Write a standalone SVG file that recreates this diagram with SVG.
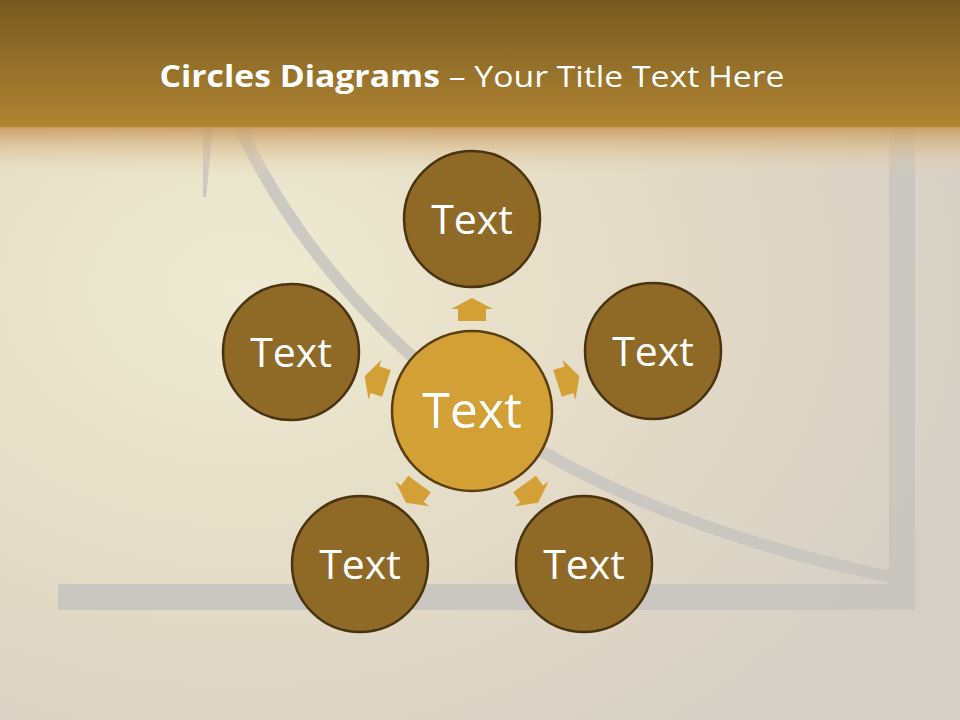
<svg xmlns="http://www.w3.org/2000/svg" width="960" height="720" viewBox="0 0 960 720">
<defs>
  <linearGradient id="hdr" x1="0" y1="0" x2="0" y2="1">
    <stop offset="0" stop-color="#775A1F"/>
    <stop offset="1" stop-color="#B18533"/>
  </linearGradient>
  <linearGradient id="fade" x1="0" y1="0" x2="0" y2="1">
    <stop offset="0" stop-color="#C99E62" stop-opacity="0.95"/>
    <stop offset="0.5" stop-color="#DCBF90" stop-opacity="0.5"/>
    <stop offset="1" stop-color="#E8DCBC" stop-opacity="0"/>
  </linearGradient>
  <radialGradient id="bg" cx="0.25" cy="0.4" r="0.8">
    <stop offset="0" stop-color="#EFEBD2"/>
    <stop offset="0.5" stop-color="#E4DCC6"/>
    <stop offset="1" stop-color="#D6CFC6"/>
  </radialGradient>
  <style>
    .outer { fill: #8F6A26; stroke: #4A3410; stroke-width: 2.5; }
    .center { fill: #D3A036; stroke: #5A3E10; stroke-width: 2.5; }
    .lbl { font-family: "Open Sans", "Liberation Sans", sans-serif; fill: #FFFFFF; text-anchor: middle; }
    .arrow { fill: #D3A036; }
    .chart { fill: none; stroke: #C8C6C0; }
  </style>
  <path id="arr" d="M0,-12 L21,-1 L14,-1 L14,11 L-14,11 L-14,-1 L-21,-1 Z"/>
</defs>

<rect x="0" y="0" width="960" height="720" fill="url(#bg)"/>

<g id="chart-lines" opacity="0.9">
  <path class="chart" d="M240 128 C285 225, 360 320, 470 405 C600 500, 760 550, 895 578" stroke-width="12"/>
  <path d="M203 128 L213 128 L206 197 L203 197 Z" fill="#C8C6C0"/>
  <rect x="889" y="128" width="26" height="482" fill="#C8C6C0"/>
  <rect x="58" y="584" width="857" height="26" fill="#C8C6C0"/>
</g>

<rect x="0" y="0" width="960" height="128" fill="url(#hdr)"/>
<rect x="0" y="127" width="960" height="50" fill="url(#fade)"/>

<text x="472" y="87" font-family="Open Sans, Liberation Sans, sans-serif" font-size="30" fill="#FFFFFF" text-anchor="middle" textLength="625" lengthAdjust="spacingAndGlyphs"><tspan font-weight="bold">Circles Diagrams</tspan> – Your Title Text Here</text>

<g id="connectors">
  <use href="#arr" class="arrow" transform="translate(472,310)"/>
  <use href="#arr" class="arrow" transform="translate(568,380) rotate(72)"/>
  <use href="#arr" class="arrow" transform="translate(531,493) rotate(144)"/>
  <use href="#arr" class="arrow" transform="translate(413,493) rotate(216)"/>
  <use href="#arr" class="arrow" transform="translate(376,380) rotate(288)"/>
</g>

<g id="node-center">
  <circle class="center" cx="472" cy="411" r="80"/>
  <text class="lbl" x="472" y="428" font-size="50">Text</text>
</g>
<g id="node-top">
  <circle class="outer" cx="472" cy="219" r="68"/>
  <text class="lbl" x="472" y="234" font-size="41">Text</text>
</g>
<g id="node-right">
  <circle class="outer" cx="653" cy="351" r="68"/>
  <text class="lbl" x="653" y="366" font-size="41">Text</text>
</g>
<g id="node-left">
  <circle class="outer" cx="291" cy="352" r="68"/>
  <text class="lbl" x="291" y="367" font-size="41">Text</text>
</g>
<g id="node-bottom-left">
  <circle class="outer" cx="360" cy="564" r="68"/>
  <text class="lbl" x="360" y="579" font-size="41">Text</text>
</g>
<g id="node-bottom-right">
  <circle class="outer" cx="584" cy="564" r="68"/>
  <text class="lbl" x="584" y="579" font-size="41">Text</text>
</g>
</svg>
